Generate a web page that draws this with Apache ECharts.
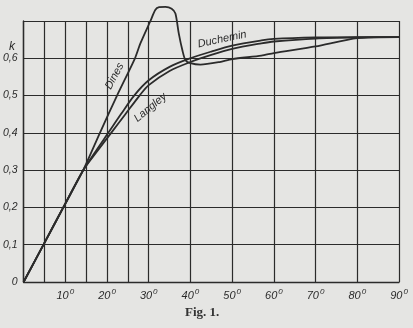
<!DOCTYPE html>
<html><head><meta charset="utf-8">
<script src="https://cdn.jsdelivr.net/npm/echarts@6/dist/echarts.min.js"></script>
<style>html,body{margin:0;padding:0;background:#e5e5e3}#c{width:413px;height:328px}</style>
</head><body><div id="c"></div>
<script>
// Data (angle in degrees, k value)
const dinesAngle = [0, 5, 10, 14.3, 18.3, 22.4, 26.7, 28, 30.4, 31.6, 32.5, 34, 35.5, 36.4, 37.2, 38.1, 38.8, 40, 42.4, 47, 50, 57, 60, 70, 80, 90];
const dinesK     = [0, 0.105, 0.21, 0.30, 0.40, 0.50, 0.60, 0.64, 0.70, 0.73, 0.737, 0.738, 0.733, 0.72, 0.667, 0.62, 0.595, 0.587, 0.583, 0.59, 0.598, 0.607, 0.614, 0.632, 0.654, 0.657];
const duchAngle  = [0, 5, 10, 14.3, 17.3, 20.3, 23.4, 26.5, 30, 35, 40, 45, 50, 57, 60, 70, 80, 90];
const duchK      = [0, 0.105, 0.21, 0.30, 0.351, 0.40, 0.451, 0.50, 0.541, 0.577, 0.60, 0.618, 0.634, 0.648, 0.652, 0.656, 0.657, 0.657];
const langAngle  = [0, 5, 10, 14.3, 17.6, 21.0, 24.4, 27.8, 30, 35, 40, 45, 50, 57, 60, 70, 80, 90];
const langK      = [0, 0.105, 0.21, 0.30, 0.35, 0.40, 0.45, 0.50, 0.528, 0.566, 0.59, 0.609, 0.625, 0.64, 0.645, 0.653, 0.656, 0.657];
const xGridLines = [0, 5, 10, 15, 20, 25, 30, 40, 50, 60, 70, 80, 90];
const xTickLabels = [10, 20, 30, 40, 50, 60, 70, 80, 90];
const yTickLabels = [0, 0.1, 0.2, 0.3, 0.4, 0.5, 0.6];
// label anchor points [angle, k]
const dinesLabel = [21.8, 0.552];
const langLabel = [30.4, 0.468];
const duchLabel = [47.6, 0.651];

const ink = '#2b2b2b';
const zip = (a, b) => a.map((v, i) => [v, b[i]]);
const lblFont = {fontFamily: 'Liberation Sans', fontStyle: 'italic', fontSize: 10.5, color: ink};

function curveLabel(coord, text, rot) {
  return {
    symbol: 'circle', symbolSize: 0, silent: true,
    data: [{coord: coord, value: text}],
    label: {show: true, position: 'inside', formatter: text, rotate: rot,
      fontFamily: 'Liberation Sans', fontStyle: 'italic', fontSize: 11, color: ink}
  };
}

const chart = echarts.init(document.getElementById('c'), null, {renderer: 'canvas'});
chart.setOption({
  backgroundColor: '#e5e5e3',
  animation: false,
  grid: {left: 23.5, right: 14, top: 21, bottom: 46},
  xAxis: {
    type: 'value', min: 0, max: 90, interval: 10,
    axisLine: {show: true, lineStyle: {color: ink, width: 1.4}},
    axisTick: {show: false},
    splitLine: {show: false},
    axisLabel: {
      margin: 6,
      customValues: xTickLabels,
      formatter: v => xTickLabels.includes(v) ? '{n|' + v + '}{s|0}' : '',
      rich: {
        n: {fontFamily: 'Liberation Sans', fontStyle: 'italic', fontSize: 11, color: ink},
        s: {fontFamily: 'Liberation Sans', fontStyle: 'italic', fontSize: 8, color: ink, padding: [0, 0, 7, 1]}
      }
    }
  },
  yAxis: {
    type: 'value', min: 0, max: 0.7, interval: 0.1,
    axisLine: {show: true, lineStyle: {color: ink, width: 1.4}},
    axisTick: {show: false},
    splitLine: {show: true, lineStyle: {color: ink, width: 1.2}},
    axisLabel: Object.assign({
      margin: 6,
      formatter: v => {
        const r = Math.round(v * 10) / 10;
        return yTickLabels.includes(r) ? (r === 0 ? '0' : r.toFixed(1).replace('.', ',')) : '';
      }
    }, lblFont)
  },
  graphic: [
    {type: 'text', left: 9, top: 41, style: {text: 'k', fontFamily: 'Liberation Sans', fontStyle: 'italic', fontSize: 12, fill: ink}},
    {type: 'text', left: 185, top: 306, style: {text: 'Fig. 1.', fontFamily: 'Liberation Serif', fontWeight: 'bold', fontSize: 13, fill: '#333'}}
  ],
  series: [
    {
      name: 'grid', type: 'line', data: [], silent: true,
      markLine: {
        silent: true, symbol: 'none', animation: false,
        label: {show: false},
        lineStyle: {color: ink, width: 1.2, type: 'solid'},
        data: xGridLines.map(v => ({xAxis: v}))
      }
    },
    {
      name: 'Dines', type: 'line', data: zip(dinesAngle, dinesK), clip: false,
      smooth: 0.25, showSymbol: false, lineStyle: {color: ink, width: 1.8},
      markPoint: curveLabel(dinesLabel, 'Dines', 62)
    },
    {
      name: 'Duchemin', type: 'line', data: zip(duchAngle, duchK),
      smooth: 0.3, showSymbol: false, lineStyle: {color: ink, width: 1.8},
      markPoint: curveLabel(duchLabel, 'Duchemin', 12)
    },
    {
      name: 'Langley', type: 'line', data: zip(langAngle, langK),
      smooth: 0.3, showSymbol: false, lineStyle: {color: ink, width: 1.8},
      markPoint: curveLabel(langLabel, 'Langley', 40)
    }
  ]
});
</script></body></html>
